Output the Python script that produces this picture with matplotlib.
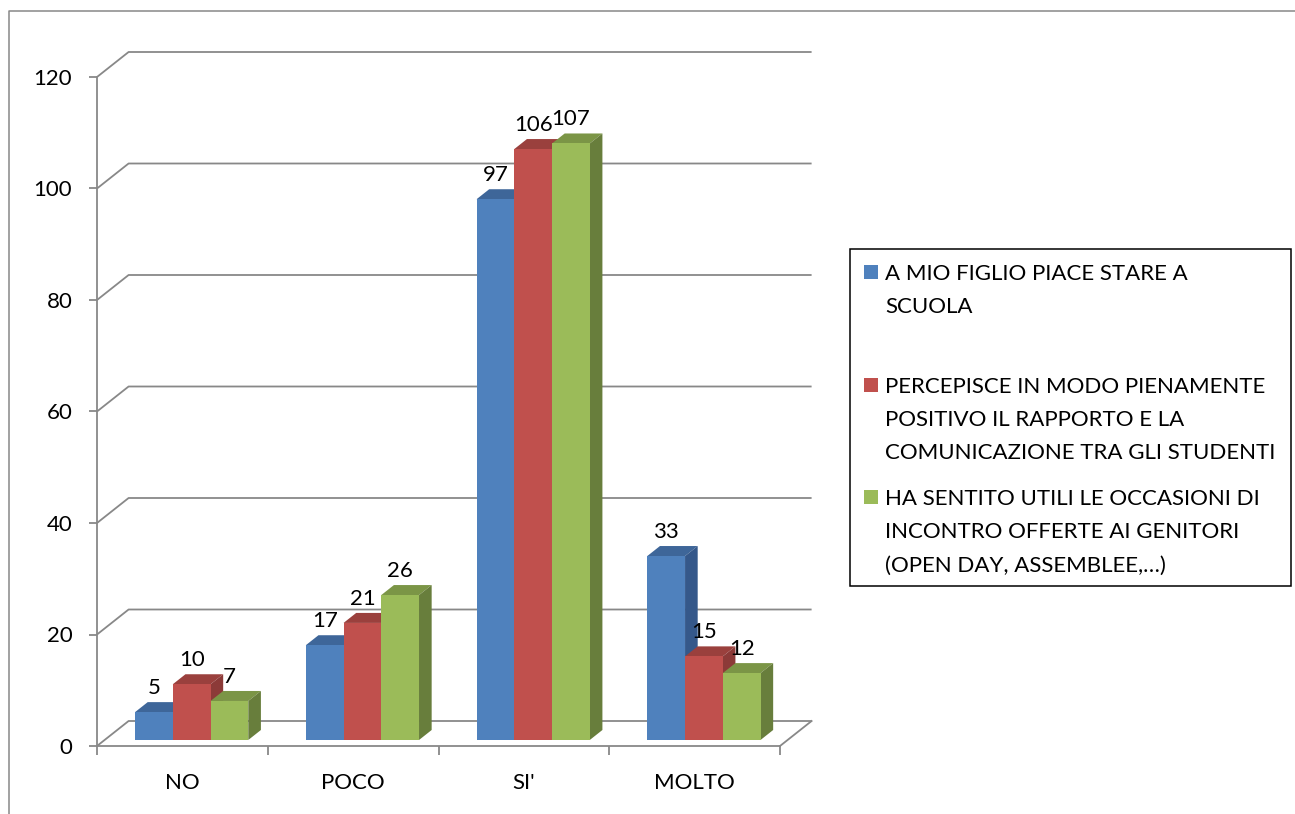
import matplotlib
matplotlib.use("Agg")
import matplotlib.pyplot as plt
from matplotlib.patches import Polygon, Rectangle
from matplotlib.lines import Line2D

plt.rcParams['font.family'] = ['Lato', 'DejaVu Sans']

# ---------------- data ----------------
categories = ["NO", "POCO", "SI'", "MOLTO"]
series_names = [
    "A MIO FIGLIO PIACE STARE A\nSCUOLA",
    "PERCEPISCE IN MODO PIENAMENTE\nPOSITIVO IL RAPPORTO E LA\nCOMUNICAZIONE TRA GLI STUDENTI",
    "HA SENTITO UTILI LE OCCASIONI DI\nINCONTRO OFFERTE AI GENITORI\n(OPEN DAY, ASSEMBLEE,\u2026)",
]
piace_scuola = [5, 17, 97, 33]
rapporto_studenti = [10, 21, 106, 15]
occasioni_genitori = [7, 26, 107, 12]
series_values = [piace_scuola, rapporto_studenti, occasioni_genitori]
y_ticks = [0, 20, 40, 60, 80, 100, 120]

# ---------------- style ----------------
front_colors = ["#4F81BD", "#C0504D", "#9BBB59"]
top_colors = ["#3E6699", "#9A403D", "#7B9546"]
side_colors = ["#35588A", "#8C3A38", "#687E3C"]
grid_col = "#888888"
FS = 16

W_PX, H_PX = 1295, 814
fig = plt.figure(figsize=(W_PX / 100, H_PX / 100), dpi=100)


def fx(x):
    return x / W_PX


def fy(y):
    return 1 - y / H_PX


ax = fig.add_axes([fx(97), fy(746), 683 / W_PX, 669 / H_PX])
ax.set_xlim(0, 4)
ax.set_ylim(0, 120)
ax.patch.set_alpha(0)

# depth offset of back wall (data units)
DX = 31.6 / 170.75
DY = 25 / 5.575
F1, F2 = 0.24, 0.64   # bar depth range (fraction)
BW = 0.221            # bar width

for s in ["top", "right"]:
    ax.spines[s].set_visible(False)
for s in ["left", "bottom"]:
    ax.spines[s].set_color(grid_col)
    ax.spines[s].set_linewidth(1.3)

ax.set_yticks(y_ticks)
ax.set_yticklabels([str(t) for t in y_ticks])
ax.tick_params(axis='y', direction='out', length=5.8, width=1.3, color=grid_col,
               labelsize=FS, pad=12, labelcolor='black')
ax.set_xticks([0, 1, 2, 3, 4])
ax.set_xticklabels([])
ax.set_xticks([i + 0.5 for i in range(len(categories))], minor=True)
ax.set_xticklabels(categories, minor=True)
ax.tick_params(axis='x', which='major', direction='out', length=6.5, width=1.3,
               color=grid_col)
ax.tick_params(axis='x', which='minor', length=0, labelsize=FS, pad=19.5,
               labelcolor='black')

# back wall gridlines + floor
for v in y_ticks:
    ax.plot([0, DX, 4 + DX], [v, v + DY, v + DY], color=grid_col, lw=1.3,
            clip_on=False, zorder=1, solid_capstyle='butt')
ax.plot([4, 4 + DX], [0, DY], color=grid_col, lw=1.3, clip_on=False, zorder=1)

# bars
ddx = (F2 - F1) * DX
ddy = (F2 - F1) * DY
z = 3
for i in range(len(categories)):
    left0 = i + 0.5 - 1.5 * BW + 0.01
    for j, vals in enumerate(series_values):
        v = vals[i]
        x0 = left0 + j * BW + F1 * DX
        y0 = F1 * DY
        x1 = x0 + BW
        y1 = y0 + v
        top = Polygon([(x0, y1), (x1, y1), (x1 + ddx, y1 + ddy), (x0 + ddx, y1 + ddy)],
                      closed=True, facecolor=top_colors[j], edgecolor='none',
                      clip_on=False, zorder=z)
        side = Polygon([(x1, y0), (x1 + ddx, y0 + ddy), (x1 + ddx, y1 + ddy), (x1, y1)],
                       closed=True, facecolor=side_colors[j], edgecolor='none',
                       clip_on=False, zorder=z)
        front = Rectangle((x0, y0), BW, v, facecolor=front_colors[j],
                          edgecolor='none', clip_on=False, zorder=z)
        ax.add_patch(top)
        ax.add_patch(side)
        ax.add_patch(front)
        ax.annotate(str(v), xy=(x0 + BW / 2, y1), xytext=(0, 18.0),
                    textcoords='offset pixels', ha='center', va='baseline',
                    fontsize=FS, color='black', zorder=z + 1,
                    annotation_clip=False)
        z += 1

# outer chart frame (partially clipped)
fig.add_artist(Line2D([fx(9), fx(9), fx(1310)], [fy(830), fy(11), fy(11)],
                      transform=fig.transFigure, color=grid_col, lw=1.1))

# legend
fig.add_artist(Rectangle((fx(849.5), fy(586)), (1291 - 849.5) / W_PX, (586 - 248.5) / H_PX,
                         transform=fig.transFigure, facecolor='white',
                         edgecolor='black', lw=1.1))
slot_top = [271.7, 385.0, 497.3]
line_gap = 33.2
for j, name in enumerate(series_names):
    yc = slot_top[j]
    fig.add_artist(Rectangle((fx(863.5), fy(yc + 7)), 14 / W_PX, 14 / H_PX,
                             transform=fig.transFigure, facecolor=front_colors[j],
                             edgecolor='none'))
    for k, line in enumerate(name.split("\n")):
        fig.text(fx(885), fy(yc + k * line_gap + 8), line, ha='left',
                 va='baseline', fontsize=FS, color='black')

fig.savefig("out.png", dpi=100)
